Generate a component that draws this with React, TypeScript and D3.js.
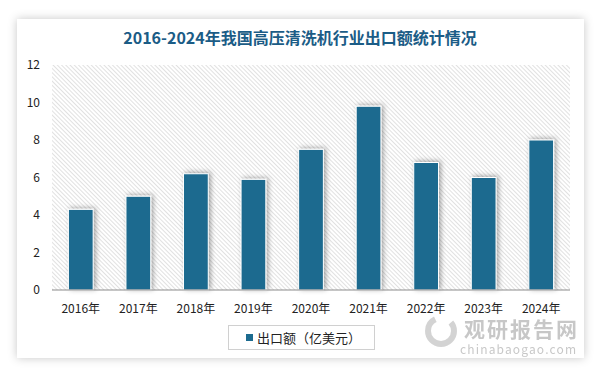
import { useEffect } from 'react';
import * as d3 from 'd3';

const years = ['2016年', '2017年', '2018年', '2019年', '2020年', '2021年', '2022年', '2023年', '2024年'];
const exportValues = [4.3, 5.0, 6.2, 5.9, 7.5, 9.8, 6.8, 6.0, 8.0];
const yTicks = [0, 2, 4, 6, 8, 10, 12];
const title = '2016-2024年我国高压清洗机行业出口额统计情况';
const seriesName = '出口额（亿美元）';

const W = 599;
const H = 370;
const plot = { left: 52, right: 570, top: 65, bottom: 290 };
const font = '"Microsoft YaHei", "Noto Sans CJK SC", "Noto Sans", sans-serif';

export default function App() {
  useEffect(() => {
    document.body.style.margin = '0';
  }, []);

  const x = d3.scaleBand().domain(years).range([plot.left, plot.right]).paddingInner(0.57).paddingOuter(0.285);
  const y = d3.scaleLinear().domain([0, 12]).range([plot.bottom, plot.top]);

  return (
    <svg width={W} height={H} style={{ display: 'block' }} fontFamily={font}>
      <defs>
        <pattern id="hatch" width="3" height="3" patternUnits="userSpaceOnUse" patternTransform="rotate(-45)">
          <rect width="3" height="3" fill="#ffffff" />
          <line x1="0" y1="0" x2="0" y2="3" stroke="#d2d2d2" strokeWidth="1.3" />
        </pattern>
        <filter id="cardShadow" x="-5%" y="-5%" width="110%" height="110%">
          <feDropShadow dx="0" dy="0" stdDeviation="5" floodColor="#000" floodOpacity="0.22" />
        </filter>
        <filter id="barShadow" x="-30%" y="-10%" width="160%" height="120%">
          <feDropShadow dx="2" dy="-1" stdDeviation="2.5" floodColor="#000" floodOpacity="0.35" />
        </filter>
      </defs>

      <rect x={0} y={0} width={W} height={H} fill="#ffffff" />
      <rect x={17} y={19} width={567} height={339} fill="#ffffff" filter="url(#cardShadow)" />

      <text x={300} y={44} textAnchor="middle" fontSize={16} fontWeight="bold" fill="#1b5c86">
        {title}
      </text>

      <rect x={plot.left} y={plot.top} width={plot.right - plot.left} height={plot.bottom - plot.top} fill="url(#hatch)" />

      {yTicks.map(t => (
        <text key={t} x={40} y={y(t)} dy="0.35em" textAnchor="end" fontSize={12} fill="#222">
          {t}
        </text>
      ))}

      {years.map((yr, i) => (
        <rect
          key={yr}
          x={x(yr)}
          y={y(exportValues[i])}
          width={x.bandwidth()}
          height={y(0) - y(exportValues[i])}
          fill="#1c6b8f"
          stroke="#ffffff"
          strokeWidth={1}
          filter="url(#barShadow)"
        />
      ))}

      <line x1={plot.left} x2={plot.right} y1={plot.bottom} y2={plot.bottom} stroke="#8c8c8c" strokeWidth={1} />

      {years.map(yr => (
        <text key={yr} x={(x(yr) ?? 0) + x.bandwidth() / 2} y={313} textAnchor="middle" fontSize={12} fill="#222">
          {yr}
        </text>
      ))}

      <rect x={228.5} y={325.5} width={146} height={24} fill="#ffffff" stroke="#d0d0d0" />
      <rect x={246} y={334} width={7} height={7} fill="#1c6b8f" />
      <text x={257} y={338} dy="0.35em" fontSize={13} fill="#222">
        {seriesName}
      </text>

      <g opacity={0.55}>
        <circle cx={441} cy={331} r={13} fill="none" stroke="#b0b0b0" strokeWidth={6} strokeDasharray="55 17" />
        <text x={464} y={337} fontSize={21} fontWeight="bold" fill="#9a9a9a" textLength={113}>观研报告网</text>
        <text x={460} y={354} fontSize={12} fill="#9a9a9a" textLength={116}>chinabaogao.com</text>
      </g>
    </svg>
  );
}
